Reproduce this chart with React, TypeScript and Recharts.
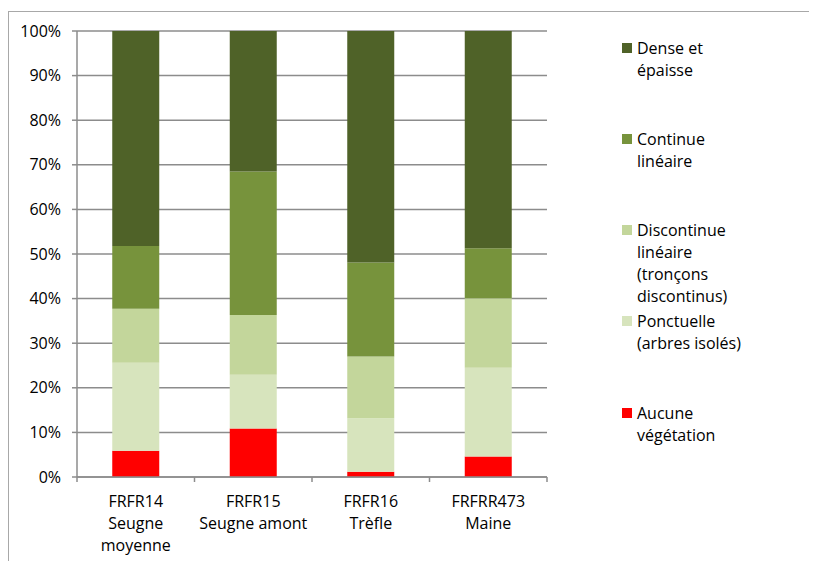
import React from "react";
import { BarChart, Bar, XAxis, YAxis, CartesianGrid } from "recharts";

// ---- data ----
const categories = ["FRFR14", "FRFR15", "FRFR16", "FRFRR473"];
const categoryLabelLines = [
  ["FRFR14", "Seugne", "moyenne"],
  ["FRFR15", "Seugne amont"],
  ["FRFR16", "Trèfle"],
  ["FRFRR473", "Maine"],
];
const aucune = [5.9, 10.9, 1.2, 4.6];
const ponctuelle = [19.7, 12.0, 12.0, 19.9];
const discontinue = [12.1, 13.4, 13.8, 15.6];
const continue_ = [14.1, 32.2, 21.1, 11.2];
const dense = [48.2, 31.5, 51.9, 48.7];
const yTicks = [0, 10, 20, 30, 40, 50, 60, 70, 80, 90, 100];

// stacking order: bottom to top
const series = [
  { key: "aucune", values: aucune, color: "#FF0000", legend: ["Aucune", "végétation"] },
  { key: "ponctuelle", values: ponctuelle, color: "#D7E4BD", legend: ["Ponctuelle", "(arbres isolés)"] },
  { key: "discontinue", values: discontinue, color: "#C3D69B", legend: ["Discontinue", "linéaire", "(tronçons", "discontinus)"] },
  { key: "continue", values: continue_, color: "#77933C", legend: ["Continue", "linéaire"] },
  { key: "dense", values: dense, color: "#4F6228", legend: ["Dense et", "épaisse"] },
];

const data = categories.map((c, i) => {
  const row: Record<string, any> = { name: c };
  series.forEach((s) => (row[s.key] = s.values[i]));
  return row;
});

const FONT = "'Open Sans', 'Liberation Sans', sans-serif";
const GRID = "#8C8C8C";

const CatTick = (props: any) => {
  const { x, y, payload, width, visibleTicksCount, index } = props;
  const half =
    payload && payload.offset ? payload.offset : width / visibleTicksCount / 2;
  const lines = categoryLabelLines[index] || [String(payload.value)];
  const isLast = index === visibleTicksCount - 1;
  return (
    <g>
      <line x1={x - half} x2={x - half} y1={y} y2={y + 5} stroke={GRID} strokeWidth={1.5} />
      {isLast && (
        <line x1={x + half} x2={x + half} y1={y} y2={y + 5} stroke={GRID} strokeWidth={1.5} />
      )}
      <text x={x} y={y + 30} textAnchor="middle" fill="#000" fontSize={16} fontFamily={FONT}>
        {lines.map((l, i) => (
          <tspan key={i} x={x} dy={i === 0 ? 0 : 22}>
            {l}
          </tspan>
        ))}
      </text>
    </g>
  );
};

const Legend = () => {
  const items = [...series].reverse();
  return (
    <div style={{ position: "absolute", left: 614, top: 0, fontFamily: FONT, fontSize: 16, color: "#000" }}>
      {items.map((s, i) => (
        <div
          key={s.key}
          style={{ position: "absolute", top: 28.7 + i * 91.2, left: 0, width: 190 }}
        >
          <div
            style={{
              position: "absolute",
              left: 0,
              top: 6,
              width: 10,
              height: 10,
              background: s.color,
            }}
          />
          <div style={{ position: "absolute", left: 15, top: 0, lineHeight: "22px", whiteSpace: "nowrap" }}>
            {s.legend.map((l, j) => (
              <div key={j}>{l}</div>
            ))}
          </div>
        </div>
      ))}
    </div>
  );
};

export default function App() {
  return (
    <div style={{ position: "relative", width: 809, height: 553, overflow: "hidden", background: "#fff" }}>
      <div
        style={{
          position: "absolute",
          left: 0,
          top: 3,
          right: -5,
          bottom: -5,
          borderTop: "1px solid #A8A8A8",
          borderLeft: "1px solid #A8A8A8",
        }}
      />
      <BarChart
        width={809}
        height={553}
        data={data}
        margin={{ top: 23, right: 270, bottom: 0, left: 0 }}
        barCategoryGap="30%"
        style={{ position: "absolute", left: 0, top: 0 }}
      >
        <CartesianGrid vertical={false} stroke={GRID} strokeWidth={1.5} strokeDasharray="" />
        <XAxis
          dataKey="name"
          height={84}
          tickLine={false}
          tickSize={0}
          tickMargin={0}
          axisLine={{ stroke: GRID, strokeWidth: 1.5 }}
          tick={<CatTick />}
          interval={0}
        />
        <YAxis
          width={69}
          domain={[0, 100]}
          ticks={yTicks}
          interval={0}
          tickFormatter={(v: number) => `${v}%`}
          tickSize={5}
          tickMargin={11}
          tickLine={{ stroke: GRID, strokeWidth: 1.5 }}
          axisLine={{ stroke: GRID, strokeWidth: 1.5 }}
          tick={{ fill: "#000", fontSize: 16, fontFamily: FONT }}
        />
        {series.map((s) => (
          <Bar
            key={s.key}
            dataKey={s.key}
            stackId="a"
            fill={s.color}
            isAnimationActive={false}
          />
        ))}
      </BarChart>
      <Legend />
    </div>
  );
}
